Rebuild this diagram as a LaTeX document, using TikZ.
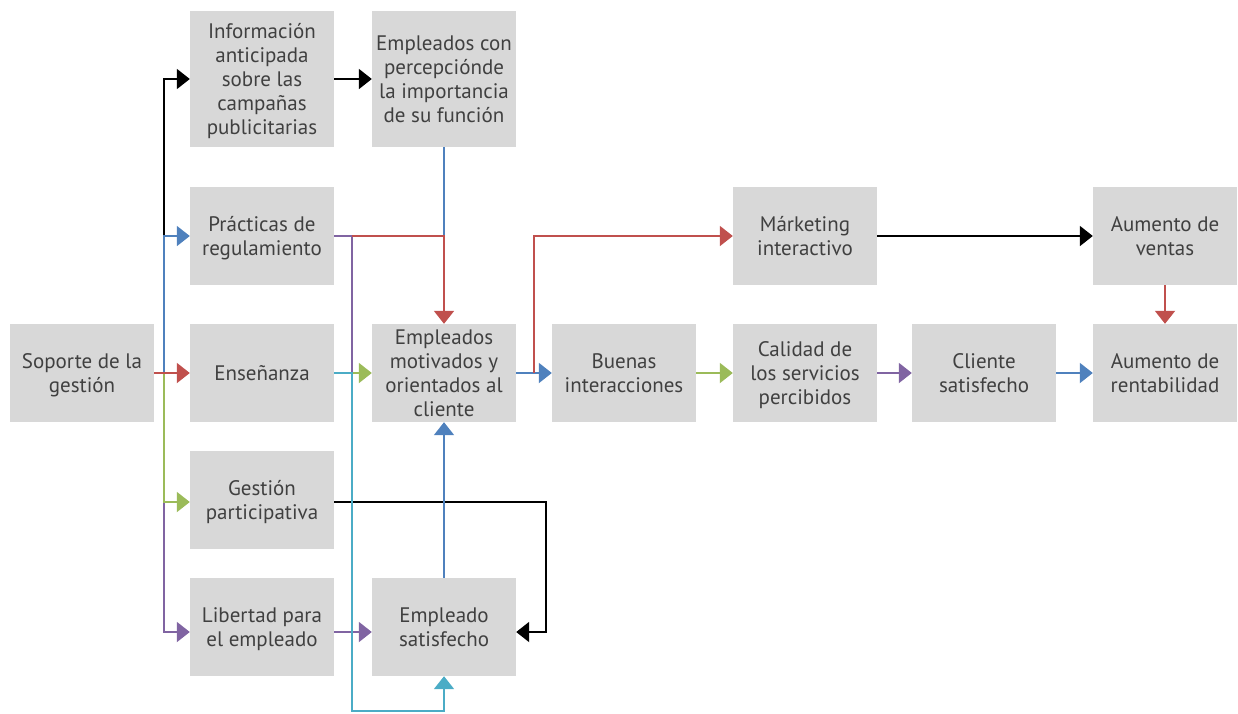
\documentclass[tikz,border=0pt]{standalone}
\usepackage{fontspec}
\setmainfont{PT Sans}
\usetikzlibrary{arrows.meta}
\definecolor{boxgray}{HTML}{D8D8D8}
\definecolor{textc}{HTML}{404040}
\definecolor{cred}{HTML}{C0504D}
\definecolor{cblue}{HTML}{4F81BD}
\definecolor{cgreen}{HTML}{9BBB59}
\definecolor{cpurple}{HTML}{8064A2}
\definecolor{ccyan}{HTML}{4BACC6}
\tikzset{
  stepbox/.style={fill=boxgray, minimum width=144pt, minimum height=98pt, inner sep=0pt,
    align=center, text=textc, font=\fontsize{21}{24}\selectfont, text depth=0pt},
  tallbox/.style={stepbox, minimum height=136pt},
  conn/.style={line width=2pt},
  arr/.style={conn, -{Triangle[width=20pt,length=13pt]}},
}
\begin{document}
\begin{tikzpicture}[x=1pt,y=-1pt]
\useasboundingbox (0,0) rectangle (1238,713);
% nodes
\node[stepbox] (sg) at (82,373) {Soporte de la\\gestión};
\node[tallbox] (ia) at (262,79) {Información\\anticipada\\sobre las\\campañas\\publicitarias};
\node[stepbox] (pr) at (262,236) {Prácticas de\\regulamiento};
\node[stepbox] (en) at (262,373) {Enseñanza};
\node[stepbox] (gp) at (262,500) {Gestión\\participativa};
\node[stepbox] (le) at (262,627) {Libertad para\\el empleado};
\node[tallbox] (ec) at (444,79) {Empleados con\\percepciónde\\la importancia\\de su función};
\node[stepbox] (em) at (444,373) {Empleados\\motivados y\\orientados al\\cliente};
\node[stepbox] (es) at (444,627) {Empleado\\satisfecho};
\node[stepbox] (bi) at (624,373) {Buenas\\interacciones};
\node[stepbox] (mk) at (805,236) {Márketing\\interactivo};
\node[stepbox] (cs) at (805,373) {Calidad de\\los servicios\\percibidos};
\node[stepbox] (cl) at (984,373) {Cliente\\satisfecho};
\node[stepbox] (av) at (1165,236) {Aumento de\\ventas};
\node[stepbox] (ar) at (1165,373) {Aumento de\\rentabilidad};
% junction coordinates
\coordinate (j) at (164,373);
\coordinate (jp) at (164,236);
\coordinate (jg) at (164,502);
\coordinate (k) at (352,236);
\coordinate (kb) at (352,373);
\coordinate (kc) at (352,711);
\coordinate (r) at (534,373);
\coordinate (g) at (546,502);
% left trunk
\draw[arr, black] (jp) |- (ia.west);
\draw[arr, cblue] (j) |- (pr.west);
\draw[arr, cpurple] (jg) |- ([yshift=-5pt]le.west);
\draw[arr, cgreen] (j) |- ([yshift=-2pt]gp.west);
\draw[arr, cred] (sg.east) -- (en.west);
% top
\draw[arr, black] (ia.east) -- (ec.west);
\draw[conn, cblue] (ec.south) -- (ec.south |- k);
\draw[conn, cpurple] (pr.east) -- (k) -- (kb);
\draw[arr, cred] (k) -- (ec.south |- k) -- (em.north);
% middle
\draw[arr, cgreen] (kb) -- (em.west);
\draw[arr, black] ([yshift=-2pt]gp.east) -- (g) |- ([yshift=-5pt]es.east);
\draw[arr, cblue] (es.north) -- (em.south);
\draw[arr, cpurple] ([yshift=-5pt]le.east) -- ([yshift=-5pt]es.west);
\draw[arr, ccyan] (en.east) -- (kb) -- (kc) -| (es.south);
% right side
\draw[arr, cblue] (em.east) -- (bi.west);
\draw[arr, cred] (r) |- (mk.west);
\draw[arr, cgreen] (bi.east) -- (cs.west);
\draw[arr, cpurple] (cs.east) -- (cl.west);
\draw[arr, cblue] (cl.east) -- (ar.west);
\draw[arr, black] (mk.east) -- (av.west);
\draw[arr, cred] (av.south) -- (ar.north);
\end{tikzpicture}
\end{document}
